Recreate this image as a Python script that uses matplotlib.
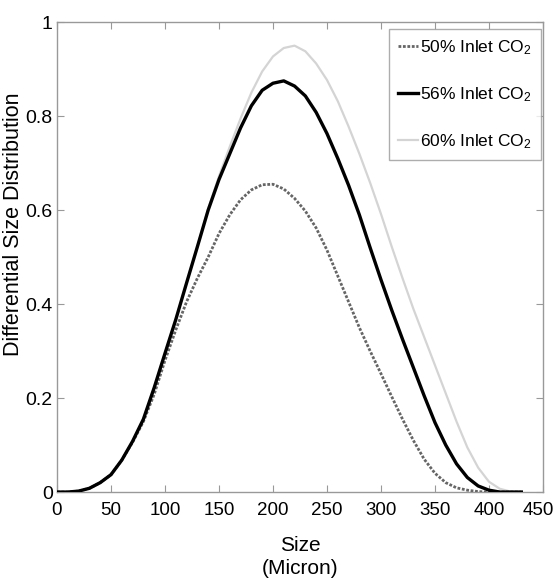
import matplotlib
matplotlib.use("Agg")
import matplotlib.pyplot as plt
from matplotlib.transforms import ScaledTranslation

size = [0, 10, 20, 30, 40, 50, 60, 70, 80, 90, 100, 110, 120, 130, 140, 150,
        160, 170, 180, 190, 200, 210, 220, 230, 240, 250, 260, 270, 280, 290,
        300, 310, 320, 330, 340, 350, 360, 370, 380, 390, 400, 410, 420, 430]

co2_50 = [0, 0, 0.002, 0.008, 0.02, 0.037, 0.068, 0.106, 0.15, 0.208, 0.28,
          0.345, 0.405, 0.455, 0.5, 0.55, 0.59, 0.622, 0.643, 0.654, 0.655,
          0.645, 0.625, 0.598, 0.562, 0.515, 0.46, 0.405, 0.35, 0.3, 0.252,
          0.203, 0.155, 0.11, 0.07, 0.04, 0.02, 0.009, 0.004, 0.001, 0, 0, 0, 0]

co2_56 = [0, 0, 0.002, 0.008, 0.02, 0.037, 0.068, 0.108, 0.155, 0.222, 0.295,
          0.367, 0.445, 0.522, 0.6, 0.665, 0.72, 0.775, 0.822, 0.855, 0.87,
          0.875, 0.864, 0.843, 0.808, 0.763, 0.71, 0.653, 0.59, 0.52, 0.452,
          0.387, 0.325, 0.265, 0.205, 0.148, 0.1, 0.06, 0.031, 0.013, 0.004, 0, 0, 0]

co2_60 = [0, 0, 0.002, 0.008, 0.02, 0.037, 0.068, 0.108, 0.155, 0.222, 0.295,
          0.367, 0.445, 0.522, 0.603, 0.672, 0.735, 0.795, 0.85, 0.895, 0.927,
          0.945, 0.95, 0.938, 0.912, 0.877, 0.832, 0.778, 0.72, 0.658, 0.592,
          0.522, 0.455, 0.39, 0.33, 0.27, 0.21, 0.15, 0.095, 0.052, 0.022,
          0.007, 0.001, 0]

labels = ["50% Inlet CO$_2$", "56% Inlet CO$_2$", "60% Inlet CO$_2$"]
x_ticks = [0, 50, 100, 150, 200, 250, 300, 350, 400, 450]
y_ticks = [0, 0.2, 0.4, 0.6, 0.8, 1]
y_ticklabels = ["0", "0.2", "0.4", "0.6", "0.8", "1"]

plt.rcParams["font.family"] = ["Liberation Sans", "DejaVu Sans"]
plt.rcParams["mathtext.fontset"] = "custom"
plt.rcParams["mathtext.rm"] = "Liberation Sans"
plt.rcParams["mathtext.it"] = "Liberation Sans"

fig = plt.figure(figsize=(5.56, 5.83), dpi=100)
ax = fig.add_axes([0.1025, 0.156, 0.874, 0.806])

ax.plot(size, co2_60, color="#d4d4d4", lw=1.6, label=labels[2], zorder=2)
ax.plot(size, co2_50, color="#666666", lw=2.0, ls=(0, (1, 0.6)), label=labels[0], zorder=3)
ax.plot(size, co2_56, color="#000000", lw=2.4, label=labels[1], zorder=4)

ax.set_xlim(0, 450)
ax.set_ylim(0, 1)
ax.set_xticks(x_ticks)
ax.set_xticklabels([str(v) for v in x_ticks])
ax.set_yticks(y_ticks)
ax.set_yticklabels(y_ticklabels)
ax.tick_params(direction="in", top=True, right=True, length=5, color="#999999",
               labelsize=14)
ax.tick_params(axis="x", pad=7, labelsize=13.5)
ax.tick_params(axis="y", pad=3)
for s in ax.spines.values():
    s.set_color("#999999")
    s.set_linewidth(1.0)

last = ax.get_xticklabels()[-1]
last.set_transform(last.get_transform() + ScaledTranslation(-5 / 100, 0, fig.dpi_scale_trans))

ax.set_xlabel("Size\n(Micron)", fontsize=15, linespacing=1.3, va="top")
ax.xaxis.set_label_coords(0.5, -0.093)
ax.set_ylabel("Differential Size Distribution", fontsize=15.5)
ax.yaxis.set_label_coords(-0.068, 0.57)

handles, labs = ax.get_legend_handles_labels()
order = [labs.index(l) for l in labels]
leg = ax.legend([handles[i] for i in order], [labs[i] for i in order],
                loc="upper right", bbox_to_anchor=(0.995, 0.985), fontsize=12.5,
                frameon=True, fancybox=False, handlelength=1.15, handletextpad=0.15,
                labelspacing=1.65, borderpad=0.5, borderaxespad=0.0)
leg.get_frame().set_edgecolor("#999999")
leg.get_frame().set_linewidth(1.0)

fig.savefig("out.png", dpi=100)
